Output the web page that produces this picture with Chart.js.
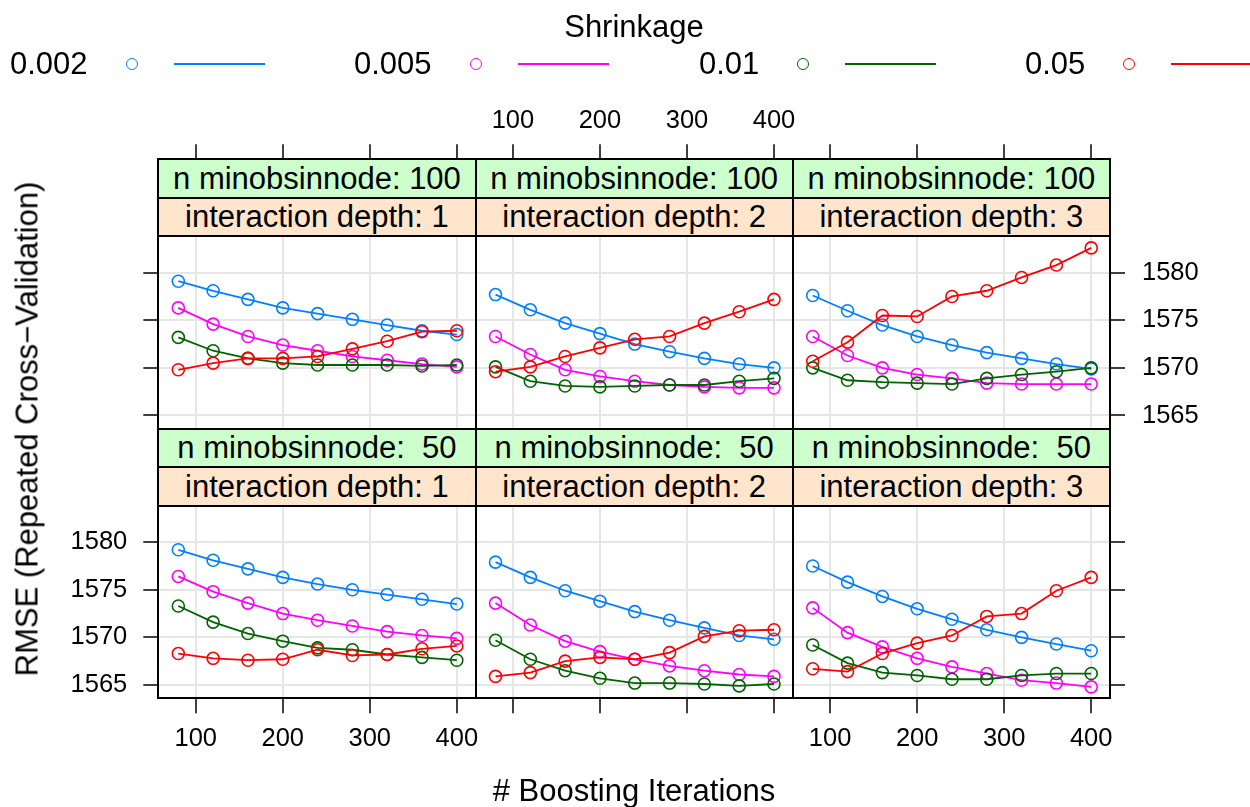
<!DOCTYPE html>
<html>
<head>
<meta charset="utf-8">
<script src="https://cdn.jsdelivr.net/npm/chart.js@4"></script>
<style>
  body { margin: 0; background: #fff; font-family: "Liberation Sans", Arial, Helvetica, sans-serif; }
  #wrap { position: relative; width: 1250px; height: 807px; overflow: hidden; background: #fff; }
  #wrap canvas { position: absolute; left: 0; top: 0; z-index: 1; }
  .strip { position: absolute; box-sizing: border-box; border-top: 2px solid #000; z-index: 2;
           display: flex; align-items: center; justify-content: center; font-size: 31px; white-space: pre; color: #000; }
  .lbl { position: absolute; transform: translate(-50%, -50%); font-size: 31px; line-height: 31px; white-space: pre; z-index: 3; color: #000; }
  .key { position: absolute; top: 49px; height: 30px; display: flex; align-items: center; font-size: 31px; z-index: 3; }
  .key .dot { margin-left: 38px; width: 12px; height: 12px; box-sizing: border-box; border-radius: 50%; border: 1.6px solid; }
  .key .seg { margin-left: 36px; width: 91px; height: 2px; }
</style>
</head>
<body>
<div id="wrap">
  <div class="lbl" style="left:634px; top:25.6px;">Shrinkage</div>
  <div class="lbl" style="left:634px; top:789.6px;"># Boosting Iterations</div>
  <div class="lbl" style="left:26.6px; top:429px; transform: translate(-50%, -50%) rotate(-90deg);">RMSE (Repeated Cross−Validation)</div>
</div>
<script>
const iterations = [80, 120, 160, 200, 240, 280, 320, 360, 400];
const shrinkageLevels = ["0.002", "0.005", "0.01", "0.05"];
const seriesColors = ["#0080ff", "#ff00ff", "#006400", "#ff0000"];
const depthLevels = [1, 2, 3];
const minobsLevels = [100, 50]; // top row, bottom row
const xTickValues = [100, 200, 300, 400];
const yTickValues = [1565, 1570, 1575, 1580];

// n.minobsinnode = 100
const n100_d1_002 = [1579.1, 1578.1, 1577.2, 1576.3, 1575.7, 1575.1, 1574.5, 1573.9, 1573.5];
const n100_d1_005 = [1576.3, 1574.6, 1573.3, 1572.4, 1571.8, 1571.2, 1570.8, 1570.4, 1570.1];
const n100_d1_01  = [1573.2, 1571.8, 1571.0, 1570.5, 1570.3, 1570.3, 1570.3, 1570.2, 1570.3];
const n100_d1_05  = [1569.8, 1570.5, 1571.0, 1571.0, 1571.2, 1572.0, 1572.8, 1573.8, 1573.9];

const n100_d2_002 = [1577.7, 1576.1, 1574.7, 1573.6, 1572.5, 1571.7, 1571.0, 1570.4, 1570.0];
const n100_d2_005 = [1573.3, 1571.4, 1569.8, 1569.1, 1568.6, 1568.2, 1568.0, 1567.9, 1567.9];
const n100_d2_01  = [1570.1, 1568.6, 1568.1, 1568.0, 1568.1, 1568.2, 1568.2, 1568.6, 1568.9];
const n100_d2_05  = [1569.6, 1570.1, 1571.2, 1572.1, 1573.0, 1573.3, 1574.7, 1575.9, 1577.2];

const n100_d3_002 = [1577.6, 1576.0, 1574.5, 1573.3, 1572.4, 1571.6, 1571.0, 1570.4, 1569.9];
const n100_d3_005 = [1573.3, 1571.3, 1570.0, 1569.3, 1568.9, 1568.4, 1568.3, 1568.3, 1568.3];
const n100_d3_01  = [1570.0, 1568.7, 1568.5, 1568.4, 1568.3, 1568.9, 1569.3, 1569.6, 1570.0];
const n100_d3_05  = [1570.7, 1572.7, 1575.5, 1575.4, 1577.5, 1578.1, 1579.5, 1580.8, 1582.6];

// n.minobsinnode = 50
const n50_d1_002 = [1579.2, 1578.1, 1577.2, 1576.3, 1575.6, 1575.0, 1574.5, 1574.0, 1573.5];
const n50_d1_005 = [1576.4, 1574.8, 1573.6, 1572.5, 1571.8, 1571.2, 1570.6, 1570.2, 1569.9];
const n50_d1_01  = [1573.3, 1571.6, 1570.4, 1569.6, 1568.9, 1568.7, 1568.2, 1567.9, 1567.6];
const n50_d1_05  = [1568.3, 1567.8, 1567.6, 1567.7, 1568.7, 1568.1, 1568.2, 1568.8, 1569.1];

const n50_d2_002 = [1577.9, 1576.3, 1574.9, 1573.8, 1572.7, 1571.8, 1571.0, 1570.2, 1569.8];
const n50_d2_005 = [1573.6, 1571.3, 1569.6, 1568.5, 1567.7, 1567.0, 1566.5, 1566.1, 1565.9];
const n50_d2_01  = [1569.7, 1567.7, 1566.5, 1565.7, 1565.2, 1565.2, 1565.1, 1564.9, 1565.1];
const n50_d2_05  = [1565.9, 1566.3, 1567.5, 1567.9, 1567.7, 1568.4, 1570.1, 1570.7, 1570.8];

const n50_d3_002 = [1577.5, 1575.8, 1574.3, 1573.0, 1571.9, 1570.8, 1570.0, 1569.3, 1568.6];
const n50_d3_005 = [1573.1, 1570.5, 1569.0, 1567.8, 1566.9, 1566.2, 1565.5, 1565.2, 1564.8];
const n50_d3_01  = [1569.2, 1567.3, 1566.3, 1566.0, 1565.6, 1565.6, 1566.0, 1566.2, 1566.2];
const n50_d3_05  = [1566.7, 1566.4, 1568.3, 1569.4, 1570.2, 1572.2, 1572.5, 1574.9, 1576.3];

const panelSeries = [
  [[n100_d1_002, n100_d1_005, n100_d1_01, n100_d1_05],
   [n100_d2_002, n100_d2_005, n100_d2_01, n100_d2_05],
   [n100_d3_002, n100_d3_005, n100_d3_01, n100_d3_05]],
  [[n50_d1_002, n50_d1_005, n50_d1_01, n50_d1_05],
   [n50_d2_002, n50_d2_005, n50_d2_01, n50_d2_05],
   [n50_d3_002, n50_d3_005, n50_d3_01, n50_d3_05]]
];

// layout
const W = 1250, H = 807;
const colLeft = [158.3, 475.5, 792.7];
const colWidth = 317.3;
const rowTop = [159.3, 428.8];
const stripH = 38.6;
const panelH = 192.3;
const xLow = 57, xHigh = 421.6;
const yLow = 1563.6, yHigh = 1583.8;
const AXH = 60;   // height of top/bottom axis boxes
const AXW = 100;  // width of left/right axis boxes (labels are clipped to the box)
const FONT = "'Liberation Sans', Arial, Helvetica, sans-serif";

const wrap = document.getElementById("wrap");

function addStrip(text, bg, left, top, width, height, closeBottom) {
  const d = document.createElement("div");
  d.className = "strip";
  d.textContent = text;
  d.style.background = bg;
  d.style.left = left + "px";
  d.style.width = width + "px";
  d.style.top = top + "px";
  d.style.height = height + "px";
  if (closeBottom) d.style.borderBottom = "2px solid #000";
  wrap.appendChild(d);
}

function fixSize(scale) {
  if (scale.isHorizontal()) scale.height = AXH;
  else scale.width = AXW;
}

function axis(position, min, max, tickValues, opts) {
  return {
    type: "linear",
    position: position,
    min: min,
    max: max,
    afterBuildTicks: (s) => { s.ticks = tickValues.map((v) => ({ value: v })); },
    afterFit: fixSize,
    grid: {
      drawOnChartArea: opts.grid,
      drawTicks: opts.ticks,
      color: "#e6e6e6",
      lineWidth: 2,
      tickColor: "#000",
      tickWidth: 1.5,
      tickLength: 15
    },
    border: { display: true, color: "#000", width: 2 },
    ticks: {
      display: opts.labels,
      color: "#000",
      padding: opts.padding,
      autoSkip: false,
      maxRotation: 0,
      font: { family: FONT, size: 25.5 },
      callback: (v) => String(v)
    }
  };
}

function buildPanel(row, col) {
  const canvas = document.createElement("canvas");
  canvas.width = W;
  canvas.height = H;
  wrap.appendChild(canvas);

  const left = colLeft[col];
  const right = left + colWidth;
  const top = rowTop[row];
  const bottom = top + 2 * stripH + panelH;
  // chart area includes the strips; extend the y range so the panel part matches
  const yMax = yHigh + (2 * stripH) * (yHigh - yLow) / panelH;

  const datasets = panelSeries[row][col].map((vals, k) => ({
    label: shrinkageLevels[k],
    data: iterations.map((x, i) => ({ x: x, y: vals[i] })),
    borderColor: seriesColors[k],
    backgroundColor: "rgba(0,0,0,0)",
    pointBackgroundColor: "rgba(0,0,0,0)",
    pointBorderColor: seriesColors[k],
    pointRadius: 6,
    pointBorderWidth: 1.6,
    borderWidth: 1.8,
    tension: 0,
    order: 4 - k,
    xAxisID: "x",
    yAxisID: "y"
  }));

  new Chart(canvas, {
    type: "line",
    data: { datasets: datasets },
    options: {
      responsive: false,
      animation: false,
      devicePixelRatio: 1,
      events: [],
      layout: {
        autoPadding: false,
        padding: { left: left - AXW, right: W - right - AXW, top: top - AXH, bottom: H - bottom - AXH }
      },
      plugins: { legend: { display: false }, tooltip: { enabled: false } },
      scales: {
        x: axis("bottom", xLow, xHigh, xTickValues,
          { grid: true, ticks: row === 1, labels: row === 1 && col !== 1, padding: 10 }),
        x2: axis("top", xLow, xHigh, xTickValues,
          { grid: false, ticks: row === 0, labels: row === 0 && col === 1, padding: 8 }),
        y: axis("left", yLow, yMax, yTickValues,
          { grid: true, ticks: col === 0, labels: col === 0 && row === 1, padding: 16 }),
        y2: axis("right", yLow, yMax, yTickValues,
          { grid: false, ticks: col === 2, labels: col === 2 && row === 0, padding: 17 })
      }
    }
  });

  const n = minobsLevels[row];
  addStrip("n minobsinnode: " + String(n).padStart(3, " "), "#ccffcc",
    left + 1, top - 1, colWidth - 2, stripH, false);
  addStrip("interaction depth: " + depthLevels[col], "#ffe5cc",
    left + 1, top + stripH - 1, colWidth - 2, stripH + 2, true);
}

for (let r = 0; r < 2; r++) {
  for (let c = 0; c < 3; c++) buildPanel(r, c);
}

// key
const keyLeft = [10, 354, 699, 1025];
shrinkageLevels.forEach((lev, k) => {
  const item = document.createElement("div");
  item.className = "key";
  item.style.left = keyLeft[k] + "px";
  const t = document.createElement("span");
  t.textContent = lev;
  const dot = document.createElement("span");
  dot.className = "dot";
  dot.style.borderColor = seriesColors[k];
  const seg = document.createElement("span");
  seg.className = "seg";
  seg.style.background = seriesColors[k];
  item.appendChild(t);
  item.appendChild(dot);
  item.appendChild(seg);
  wrap.appendChild(item);
});
</script>
</body>
</html>
